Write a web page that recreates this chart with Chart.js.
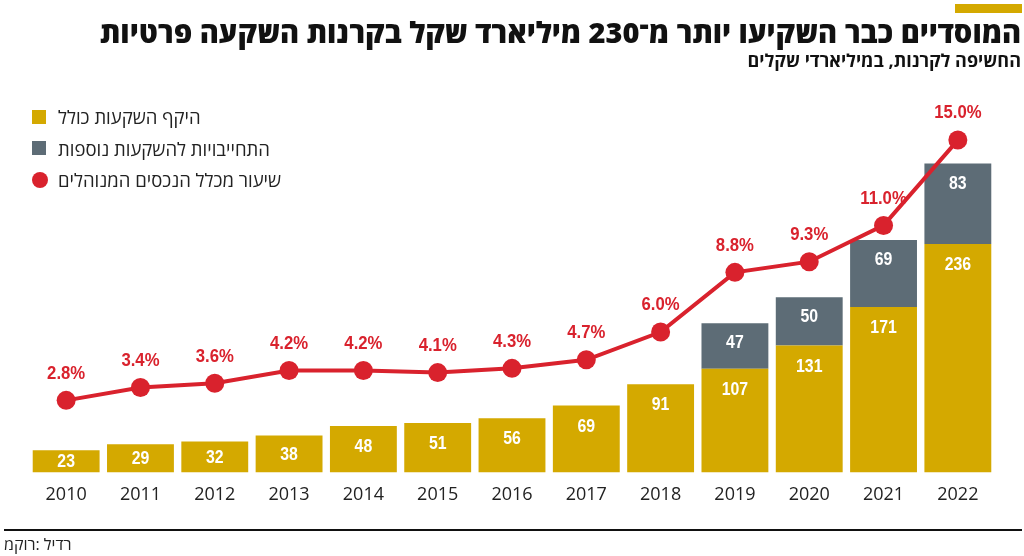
<!DOCTYPE html>
<html>
<head>
<meta charset="utf-8">
<script src="https://cdn.jsdelivr.net/npm/chart.js@4.4.1/dist/chart.umd.min.js"></script>
<style>
    body { margin: 0; width: 1024px; height: 556px; position: relative; overflow: hidden; background: #fff;
           font-family: "Open Sans", "DejaVu Sans", sans-serif; color: #222; }
    #chartBox { position: absolute; left: 0; top: 0; width: 1024px; height: 556px; }
    #accent { position: absolute; left: 955px; top: 4px; width: 67px; height: 9px; background: #D4A900; }
    #title { position: absolute; right: 3px; top: 12px; margin: 0; font-size: 29px; font-weight: 800; color: #111; white-space: nowrap; }
    #subtitle { position: absolute; right: 3px; top: 48px; margin: 0; font-size: 18px; font-weight: 700; color: #111; white-space: nowrap; }
    #legend { position: absolute; left: 32px; top: 101px; }
    .row { display: flex; align-items: center; height: 31.5px; }
    .mark { width: 14px; height: 14px; margin-right: 12px; }
    .row span { font-size: 18.5px; color: #222; }
    #rule { position: absolute; left: 4px; right: 2px; top: 529px; height: 2px; background: #111; }
    #source { position: absolute; left: 4px; top: 533px; font-size: 16px; color: #222;
              direction: ltr; unicode-bidi: bidi-override; }
</style>
</head>
<body>
<div id="chartBox"><canvas id="chart" width="1024" height="556"></canvas></div>
<div id="accent"></div>
<h1 id="title" dir="rtl">המוסדיים כבר השקיעו יותר מ־230 מיליארד שקל בקרנות השקעה פרטיות</h1>
<h2 id="subtitle" dir="rtl">החשיפה לקרנות, במיליארדי שקלים</h2>
<div id="legend"></div>
<div id="rule"></div>
<div id="source">מקור: לידר</div>
<script>
// data
const years = ['2010', '2011', '2012', '2013', '2014', '2015', '2016', '2017', '2018', '2019', '2020', '2021', '2022'];
const totalInvested = [23, 29, 32, 38, 48, 51, 56, 69, 91, 107, 131, 171, 236];
const extraCommitments = [null, null, null, null, null, null, null, null, null, 47, 50, 69, 83];
const assetShare = [2.8, 3.4, 3.6, 4.2, 4.2, 4.1, 4.3, 4.7, 6.0, 8.8, 9.3, 11.0, 15.0];
const seriesNames = ['היקף השקעות כולל', 'התחייבויות להשקעות נוספות', 'שיעור מכלל הנכסים המנוהלים'];

const YELLOW = '#D4A900', GREY = '#5D6C76', RED = '#D9222D';

// legend built from the dataset names
const legend = document.getElementById('legend');
[[YELLOW, 0], [GREY, 0], [RED, 8]].forEach(function(m, i) {
    const row = document.createElement('div');
    row.className = 'row';
    const mark = document.createElement('div');
    mark.className = 'mark';
    mark.style.background = m[0];
    mark.style.borderRadius = m[1] + 'px';
    if (i === 2) { mark.style.width = '16px'; mark.style.height = '16px'; mark.style.marginRight = '10px'; }
    const txt = document.createElement('span');
    txt.dir = 'rtl';
    txt.textContent = seriesNames[i];
    row.appendChild(mark); row.appendChild(txt);
    legend.appendChild(row);
});

// narrow bold text: Liberation Sans squeezed sideways
function narrowText(ctx, text, x, y) {
    ctx.save();
    ctx.translate(x, y);
    ctx.scale(0.88, 1);
    ctx.fillText(text, 0, 0);
    ctx.restore();
}

// draws the numbers on bars and above points
const valueLabels = {
    id: 'valueLabels',
    afterDatasetsDraw: function(chart) {
        const ctx = chart.ctx;
        ctx.save();
        ctx.textAlign = 'center';
        ctx.textBaseline = 'middle';
        ctx.font = 'bold 18px "Liberation Sans", Arial, sans-serif';
        ctx.fillStyle = '#fff';
        chart.getDatasetMeta(1).data.forEach(function(bar, i) {
            const y = Math.min(bar.y + 21, (bar.y + bar.base) / 2 + 1);
            narrowText(ctx, String(totalInvested[i]), bar.x, y);
        });
        chart.getDatasetMeta(2).data.forEach(function(bar, i) {
            if (extraCommitments[i] == null) return;
            narrowText(ctx, String(extraCommitments[i]), bar.x, bar.y + 20);
        });
        ctx.fillStyle = RED;
        ctx.font = 'bold 19px "Liberation Sans", Arial, sans-serif';
        chart.getDatasetMeta(0).data.forEach(function(pt, i) {
            narrowText(ctx, assetShare[i].toFixed(1) + '%', pt.x, pt.y - 27);
        });
        ctx.restore();
    }
};

const ctx = document.getElementById('chart').getContext('2d');
const chart = new Chart(ctx, {
    data: {
        labels: years,
        datasets: [{
            type: 'line',
            label: seriesNames[2],
            data: assetShare,
            yAxisID: 'y2',
            order: 0,
            borderColor: RED,
            borderWidth: 4,
            pointRadius: 9.5,
            pointBackgroundColor: RED,
            pointBorderWidth: 0,
            tension: 0
        }, {
            type: 'bar',
            label: seriesNames[0],
            data: totalInvested,
            yAxisID: 'y',
            order: 1,
            backgroundColor: YELLOW,
            borderWidth: 0,
            barPercentage: 0.9,
            categoryPercentage: 1
        }, {
            type: 'bar',
            label: seriesNames[1],
            data: extraCommitments,
            yAxisID: 'y',
            order: 2,
            backgroundColor: GREY,
            borderWidth: 0,
            barPercentage: 0.9,
            categoryPercentage: 1
        }]
    },
    options: {
        responsive: false,
        animation: false,
        layout: { padding: { left: 29, right: 29, top: 110, bottom: 38 } },
        plugins: { legend: { display: false }, tooltip: { enabled: false } },
        scales: {
            x: {
                stacked: true,
                grid: { display: false, drawTicks: false },
                border: { display: false },
                ticks: { color: '#222', padding: 12, font: { family: '"Open Sans", "DejaVu Sans", sans-serif', size: 18 } }
            },
            y: { display: false, stacked: true, min: 0, max: 374.4 },
            y2: { display: false, min: -0.577, max: 16.41 }
        }
    },
    plugins: [valueLabels]
});
</script>
</body>
</html>
